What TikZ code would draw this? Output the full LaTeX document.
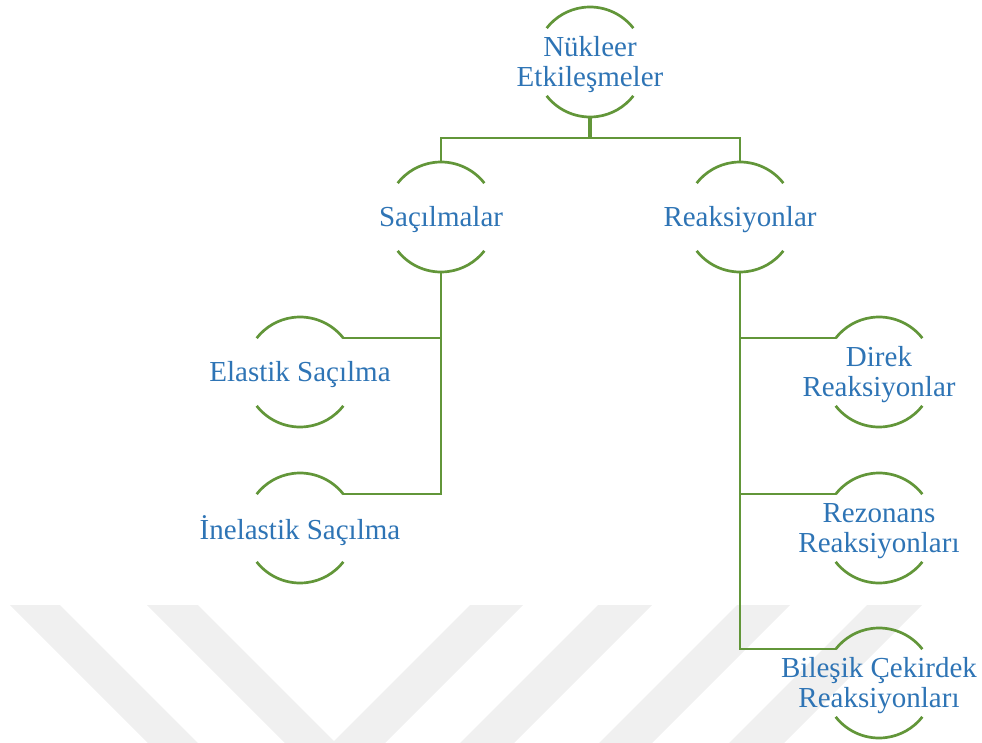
\documentclass[tikz,border=0pt]{standalone}
\usepackage{fontspec}
\setmainfont{Liberation Serif}
\definecolor{linegreen}{RGB}{98,150,57}
\definecolor{textblue}{RGB}{46,116,181}
\definecolor{wmgray}{RGB}{240,240,240}

% top and bottom arcs of a ring node
\newcommand\drawringarcs[1]{%
  \draw[arcline] (#1.38) arc[start angle=38,end angle=142,radius=55pt];
  \draw[arcline] (#1.218) arc[start angle=218,end angle=322,radius=55pt];}

\begin{document}
\begin{tikzpicture}[x=1pt,y=1pt,
  ring/.style={circle, minimum size=110pt, inner sep=0pt, outer sep=0pt},
  lbl/.style={text=textblue, font=\fontsize{29}{30}\selectfont, align=center, inner sep=0pt, yshift=-3pt},
  arcline/.style={draw=linegreen, line width=2.7pt},
  conn/.style={draw=linegreen, line width=2.7pt},
  stem/.style={draw=linegreen, line width=3.8pt},
  band/.style={fill=wmgray}
]
\useasboundingbox (0,0) rectangle (982,-743);

% background watermark bands
\fill[band] (10,-605) -- (60,-605) -- (198,-743) -- (148,-743) -- cycle;
\fill[band] (147,-605) -- (198,-605) -- (336,-743) -- (285,-743) -- cycle;
\fill[band] (470,-605) -- (523,-605) -- (385,-743) -- (332,-743) -- cycle;
\fill[band] (598,-605) -- (652,-605) -- (514,-743) -- (460,-743) -- cycle;
\fill[band] (737,-605) -- (790,-605) -- (652,-743) -- (599,-743) -- cycle;
\fill[band] (867,-605) -- (922,-605) -- (784,-743) -- (729,-743) -- cycle;

% ring nodes
\node[ring] (nuk) at (590,-62) {};
\node[ring] (sac) at (441,-217) {};
\node[ring] (rea) at (740,-217) {};
\node[ring] (ela) at (300,-372) {};
\node[ring] (ine) at (300,-528) {};
\node[ring] (dir) at (879,-372) {};
\node[ring] (rez) at (879,-528) {};
\node[ring] (bil) at (879,-683) {};

% labels
\node[lbl] (nuk-t) at (nuk) {Nükleer\\Etkileşmeler};
\node[lbl] (sac-t) at (sac) {Saçılmalar};
\node[lbl] (rea-t) at (rea) {Reaksiyonlar};
\node[lbl] (ela-t) at (ela) {Elastik Saçılma};
\node[lbl] (ine-t) at (ine) {İnelastik Saçılma};
\node[lbl] (dir-t) at (dir) {Direk\\Reaksiyonlar};
\node[lbl] (rez-t) at (rez) {Rezonans\\Reaksiyonları};
\node[lbl] (bil-t) at (bil) {Bileşik Çekirdek\\Reaksiyonları};

% arcs
\drawringarcs{nuk}
\drawringarcs{sac}
\drawringarcs{rea}
\drawringarcs{ela}
\drawringarcs{ine}
\drawringarcs{dir}
\drawringarcs{rez}
\drawringarcs{bil}

% connectors
\coordinate (bus) at (590,-138);
\draw[stem] (nuk.south) -- (bus);
\draw[conn] (sac.north) |- (bus) -| (rea.north);
\draw[conn] (sac.south) |- (ine.38);
\draw[conn] (ela.38) -- (ela.38 -| sac.south);
\draw[conn] (rea.south) |- (bil.142);
\draw[conn] (dir.142) -- (dir.142 -| rea.south);
\draw[conn] (rez.142) -- (rez.142 -| rea.south);
\end{tikzpicture}
\end{document}
